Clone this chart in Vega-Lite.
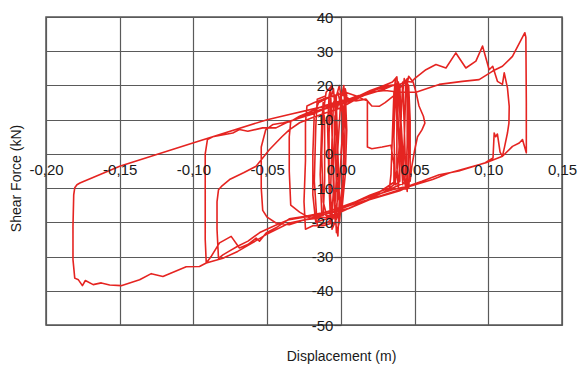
{
  "$schema": "https://vega.github.io/schema/vega-lite/v6.json",
  "width": 516,
  "height": 308,
  "autosize": {"type": "none"},
  "padding": {"left": 46, "top": 17, "right": 17, "bottom": 40},
  "config": {
    "view": {"stroke": "#555555", "strokeWidth": 1.5},
    "font": "Liberation Sans"
  },
  "data": {
    "values": [
      {"i":1,"d":0,"f":0},{"i":2,"d":0.002,"f":9},{"i":3,"d":0.004,"f":17},{"i":4,"d":0.003,"f":19},{"i":5,"d":0.001,"f":6},
      {"i":6,"d":-0.001,"f":-10},{"i":7,"d":-0.004,"f":-18},{"i":8,"d":-0.007,"f":-20},{"i":9,"d":-0.008,"f":-9},{"i":10,"d":-0.008,"f":6},
      {"i":11,"d":-0.007,"f":16},{"i":12,"d":-0.005,"f":19},{"i":13,"d":-0.003,"f":8},{"i":14,"d":-0.002,"f":-8},{"i":15,"d":-0.003,"f":-19},
      {"i":16,"d":-0.006,"f":-22},{"i":17,"d":-0.007,"f":-12},{"i":18,"d":-0.006,"f":4},{"i":19,"d":-0.005,"f":15},{"i":20,"d":-0.002,"f":18},
      {"i":21,"d":0.001,"f":12},{"i":22,"d":0.002,"f":-2},{"i":23,"d":0.001,"f":-14},{"i":24,"d":-0.002,"f":-18},{"i":25,"d":-0.009,"f":-19},
      {"i":26,"d":-0.012,"f":-14},{"i":27,"d":-0.013,"f":0},{"i":28,"d":-0.012,"f":12},{"i":29,"d":-0.010,"f":18},{"i":30,"d":-0.006,"f":20},
      {"i":31,"d":-0.003,"f":14},{"i":32,"d":-0.002,"f":0},{"i":33,"d":-0.001,"f":-13},{"i":34,"d":-0.002,"f":-24},{"i":35,"d":-0.004,"f":-19},
      {"i":36,"d":-0.005,"f":-4},{"i":37,"d":-0.004,"f":11},{"i":38,"d":0.000,"f":17},{"i":39,"d":0.003,"f":18},{"i":40,"d":0.004,"f":7},
      {"i":41,"d":0.003,"f":-6},{"i":42,"d":0.001,"f":-15},{"i":43,"d":-0.004,"f":-20},{"i":44,"d":-0.012,"f":-21},{"i":45,"d":-0.019,"f":-21},
      {"i":46,"d":-0.024,"f":-22},{"i":47,"d":-0.025,"f":-14},{"i":48,"d":-0.024,"f":-2},{"i":49,"d":-0.024,"f":9},{"i":50,"d":-0.023,"f":14},
      {"i":51,"d":-0.018,"f":15},{"i":52,"d":-0.012,"f":16},{"i":53,"d":-0.005,"f":17},{"i":54,"d":0.003,"f":18},{"i":55,"d":0.010,"f":17},
      {"i":56,"d":0.015,"f":16},{"i":57,"d":0.018,"f":15.5},{"i":58,"d":0.018,"f":8},{"i":59,"d":0.018,"f":2},{"i":60,"d":0.021,"f":1.5},
      {"i":61,"d":0.028,"f":2},{"i":62,"d":0.034,"f":2.5},{"i":63,"d":0.036,"f":-3},{"i":64,"d":0.036,"f":-9},{"i":65,"d":0.030,"f":-11},
      {"i":66,"d":0.020,"f":-13},{"i":67,"d":0.010,"f":-15},{"i":68,"d":0.000,"f":-17},{"i":69,"d":-0.010,"f":-19},{"i":70,"d":-0.017,"f":-20},
      {"i":71,"d":-0.019,"f":-12},{"i":72,"d":-0.019,"f":0},{"i":73,"d":-0.018,"f":12},{"i":74,"d":-0.015,"f":15},{"i":75,"d":-0.008,"f":16.5},
      {"i":76,"d":0.000,"f":17.5},{"i":77,"d":0.006,"f":16},{"i":78,"d":0.010,"f":15.5},{"i":79,"d":0.017,"f":16},{"i":80,"d":0.021,"f":14},
      {"i":81,"d":0.026,"f":13.9},{"i":82,"d":0.030,"f":15},{"i":83,"d":0.033,"f":16},{"i":84,"d":0.036,"f":17},{"i":85,"d":0.037,"f":22},
      {"i":86,"d":0.038,"f":10},{"i":87,"d":0.038,"f":-4},{"i":88,"d":0.039,"f":-10},{"i":89,"d":0.040,"f":-2},{"i":90,"d":0.041,"f":12},
      {"i":91,"d":0.042,"f":21},{"i":92,"d":0.043,"f":8},{"i":93,"d":0.044,"f":-6},{"i":94,"d":0.045,"f":-11},{"i":95,"d":0.046,"f":0},
      {"i":96,"d":0.046,"f":14},{"i":97,"d":0.045,"f":22},{"i":98,"d":0.042,"f":20},{"i":99,"d":0.039,"f":19},{"i":100,"d":0.036,"f":18},
      {"i":101,"d":0.035,"f":6},{"i":102,"d":0.034,"f":-6},{"i":103,"d":0.033,"f":-10},{"i":104,"d":0.020,"f":-12},{"i":105,"d":0.010,"f":-14},
      {"i":106,"d":0.000,"f":-16},{"i":107,"d":-0.006,"f":-17},{"i":108,"d":-0.008,"f":-8},{"i":109,"d":-0.009,"f":8},{"i":110,"d":-0.008,"f":17},
      {"i":111,"d":-0.007,"f":19},{"i":112,"d":-0.006,"f":6},{"i":113,"d":-0.005,"f":-10},{"i":114,"d":-0.006,"f":-18},{"i":115,"d":-0.010,"f":-18},
      {"i":116,"d":-0.013,"f":-17},{"i":117,"d":-0.014,"f":-6},{"i":118,"d":-0.013,"f":8},{"i":119,"d":-0.012,"f":15},{"i":120,"d":-0.011,"f":9},
      {"i":121,"d":-0.011,"f":-8},{"i":122,"d":-0.012,"f":-18},{"i":123,"d":-0.020,"f":-19},{"i":124,"d":-0.028,"f":-17},{"i":125,"d":-0.034,"f":-15},
      {"i":126,"d":-0.035,"f":-5},{"i":127,"d":-0.035,"f":5},{"i":128,"d":-0.034,"f":9.5},{"i":129,"d":-0.028,"f":11},{"i":130,"d":-0.020,"f":12.5},
      {"i":131,"d":-0.012,"f":14},{"i":132,"d":0.000,"f":15.5},{"i":133,"d":0.010,"f":16.5},{"i":134,"d":0.020,"f":18.5},{"i":135,"d":0.028,"f":19.8},
      {"i":136,"d":0.035,"f":21},{"i":137,"d":0.038,"f":22.5},{"i":138,"d":0.040,"f":12},{"i":139,"d":0.041,"f":-2},{"i":140,"d":0.042,"f":-9},
      {"i":141,"d":0.043,"f":4},{"i":142,"d":0.044,"f":18},{"i":143,"d":0.046,"f":22.7},{"i":144,"d":0.049,"f":21},{"i":145,"d":0.051,"f":18},
      {"i":146,"d":0.053,"f":14},{"i":147,"d":0.056,"f":11},{"i":148,"d":0.057,"f":9},{"i":149,"d":0.055,"f":7},{"i":150,"d":0.052,"f":5},
      {"i":151,"d":0.050,"f":1},{"i":152,"d":0.048,"f":-4},{"i":153,"d":0.047,"f":-8},{"i":154,"d":0.040,"f":-9},{"i":155,"d":0.030,"f":-11},
      {"i":156,"d":0.020,"f":-13},{"i":157,"d":0.010,"f":-15},{"i":158,"d":0.000,"f":-17},{"i":159,"d":-0.010,"f":-18.5},{"i":160,"d":-0.024,"f":-19.2},
      {"i":161,"d":-0.035,"f":-20.7},{"i":162,"d":-0.044,"f":-20.2},{"i":163,"d":-0.050,"f":-18.5},{"i":164,"d":-0.053,"f":-16.5},{"i":165,"d":-0.054,"f":-10},
      {"i":166,"d":-0.054,"f":-2},{"i":167,"d":-0.054,"f":2},{"i":168,"d":-0.051,"f":7},{"i":169,"d":-0.046,"f":8.6},{"i":170,"d":-0.039,"f":9.1},
      {"i":171,"d":-0.035,"f":9.5},{"i":172,"d":-0.028,"f":10.5},{"i":173,"d":-0.020,"f":11.5},{"i":174,"d":-0.012,"f":13},{"i":175,"d":0.000,"f":14.5},
      {"i":176,"d":0.010,"f":16},{"i":177,"d":0.024,"f":18.8},{"i":178,"d":0.032,"f":20},{"i":179,"d":0.040,"f":20.3},{"i":180,"d":0.041,"f":6},
      {"i":181,"d":0.042,"f":-8},{"i":182,"d":0.043,"f":3},{"i":183,"d":0.044,"f":21},{"i":184,"d":0.046,"f":20},{"i":185,"d":0.047,"f":10},
      {"i":186,"d":0.047,"f":-4},{"i":187,"d":0.046,"f":-10},{"i":188,"d":0.040,"f":-10.5},{"i":189,"d":0.025,"f":-12.5},{"i":190,"d":0.010,"f":-14.5},
      {"i":191,"d":0.000,"f":-16},{"i":192,"d":-0.010,"f":-17.5},{"i":193,"d":-0.025,"f":-18.5},{"i":194,"d":-0.035,"f":-19.2},{"i":195,"d":-0.045,"f":-21},
      {"i":196,"d":-0.055,"f":-23},{"i":197,"d":-0.063,"f":-25.5},{"i":198,"d":-0.070,"f":-27},{"i":199,"d":-0.076,"f":-28.5},{"i":200,"d":-0.080,"f":-29.5},
      {"i":201,"d":-0.083,"f":-30.5},{"i":202,"d":-0.084,"f":-22},{"i":203,"d":-0.084,"f":-14},{"i":204,"d":-0.083,"f":-10.5},{"i":205,"d":-0.081,"f":-9.5},
      {"i":206,"d":-0.0755,"f":-7.5},{"i":207,"d":-0.066,"f":-5.5},{"i":208,"d":-0.0575,"f":-3.6},{"i":209,"d":-0.0484,"f":1.3},{"i":210,"d":-0.040,"f":5},
      {"i":211,"d":-0.035,"f":7},{"i":212,"d":-0.028,"f":9.1},{"i":213,"d":-0.020,"f":10.5},{"i":214,"d":-0.010,"f":12},{"i":215,"d":0.000,"f":13.5},
      {"i":216,"d":0.010,"f":15.9},{"i":217,"d":0.024,"f":18.8},{"i":218,"d":0.035,"f":20},{"i":219,"d":0.040,"f":20.3},{"i":220,"d":0.0442,"f":21.2},
      {"i":221,"d":0.048,"f":21},{"i":222,"d":0.0498,"f":21.9},{"i":223,"d":0.0577,"f":24.6},{"i":224,"d":0.0645,"f":26.1},{"i":225,"d":0.0713,"f":25.1},
      {"i":226,"d":0.078,"f":29.5},{"i":227,"d":0.0848,"f":25.1},{"i":228,"d":0.0916,"f":27.1},{"i":229,"d":0.0961,"f":31.5},{"i":230,"d":0.1006,"f":24.6},
      {"i":231,"d":0.103,"f":25.6},{"i":232,"d":0.1062,"f":21.2},{"i":233,"d":0.1096,"f":20.3},{"i":234,"d":0.1108,"f":23.7},{"i":235,"d":0.113,"f":19.3},
      {"i":236,"d":0.1142,"f":13.9},{"i":237,"d":0.114,"f":9},{"i":238,"d":0.113,"f":6.1},{"i":239,"d":0.111,"f":2},{"i":240,"d":0.1096,"f":-0.7},
      {"i":241,"d":0.108,"f":0.5},{"i":242,"d":0.1062,"f":5.8},{"i":243,"d":0.105,"f":5.0},{"i":244,"d":0.104,"f":6.1},{"i":245,"d":0.1032,"f":-1.2},
      {"i":246,"d":0.098,"f":-2.6},{"i":247,"d":0.080,"f":-5},{"i":248,"d":0.0667,"f":-6.1},{"i":249,"d":0.055,"f":-8},{"i":250,"d":0.045,"f":-9.5},
      {"i":251,"d":0.035,"f":-10.5},{"i":252,"d":0.020,"f":-12.5},{"i":253,"d":0.005,"f":-14.8},{"i":254,"d":-0.010,"f":-17},{"i":255,"d":-0.024,"f":-18.2},
      {"i":256,"d":-0.035,"f":-19},{"i":257,"d":-0.044,"f":-21.6},{"i":258,"d":-0.0507,"f":-23.1},{"i":259,"d":-0.0552,"f":-25.5},{"i":260,"d":-0.0575,"f":-24.6},
      {"i":261,"d":-0.0631,"f":-26.5},{"i":262,"d":-0.0688,"f":-27.5},{"i":263,"d":-0.0744,"f":-24.1},{"i":264,"d":-0.0823,"f":-26},{"i":265,"d":-0.088,"f":-30},
      {"i":266,"d":-0.0913,"f":-31.9},{"i":267,"d":-0.092,"f":-25},{"i":268,"d":-0.092,"f":-10},{"i":269,"d":-0.092,"f":0},{"i":270,"d":-0.0905,"f":4.2},
      {"i":271,"d":-0.0869,"f":5.0},{"i":272,"d":-0.0733,"f":6.1},{"i":273,"d":-0.0688,"f":7.1},{"i":274,"d":-0.0631,"f":6.6},{"i":275,"d":-0.053,"f":7.6},
      {"i":276,"d":-0.044,"f":7.6},{"i":277,"d":-0.0371,"f":9.1},{"i":278,"d":-0.030,"f":10.2},{"i":279,"d":-0.020,"f":12},{"i":280,"d":-0.010,"f":13.5},
      {"i":281,"d":0.000,"f":15},{"i":282,"d":0.010,"f":16.8},{"i":283,"d":0.020,"f":18},{"i":284,"d":0.030,"f":18.5},{"i":285,"d":0.040,"f":18},
      {"i":286,"d":0.051,"f":18},{"i":287,"d":0.060,"f":19.3},{"i":288,"d":0.0667,"f":20.3},{"i":289,"d":0.0825,"f":21.2},{"i":290,"d":0.0938,"f":21.7},
      {"i":291,"d":0.103,"f":24.2},{"i":292,"d":0.1096,"f":25.6},{"i":293,"d":0.1164,"f":28.5},{"i":294,"d":0.1248,"f":35.4},{"i":295,"d":0.1255,"f":34},
      {"i":296,"d":0.1258,"f":15},{"i":297,"d":0.1258,"f":0.3},{"i":298,"d":0.1232,"f":4.2},{"i":299,"d":0.121,"f":3.2},{"i":300,"d":0.1164,"f":2.2},
      {"i":301,"d":0.1096,"f":-0.7},{"i":302,"d":0.0984,"f":-2.6},{"i":303,"d":0.0735,"f":-5.6},{"i":304,"d":0.0622,"f":-7.5},{"i":305,"d":0.0464,"f":-9.5},
      {"i":306,"d":0.040,"f":-10.8},{"i":307,"d":0.0193,"f":-13.4},{"i":308,"d":0.005,"f":-16},{"i":309,"d":-0.010,"f":-17.5},{"i":310,"d":-0.0236,"f":-19.2},
      {"i":311,"d":-0.035,"f":-20.2},{"i":312,"d":-0.0507,"f":-23.6},{"i":313,"d":-0.060,"f":-26},{"i":314,"d":-0.070,"f":-28.5},{"i":315,"d":-0.080,"f":-30.5},
      {"i":316,"d":-0.0913,"f":-31.9},{"i":317,"d":-0.0959,"f":-32.9},{"i":318,"d":-0.1049,"f":-33.0},{"i":319,"d":-0.1207,"f":-35.8},{"i":320,"d":-0.1286,"f":-35.0},
      {"i":321,"d":-0.1365,"f":-36.8},{"i":322,"d":-0.149,"f":-38.5},{"i":323,"d":-0.1568,"f":-38.3},{"i":324,"d":-0.1625,"f":-37.7},{"i":325,"d":-0.168,"f":-38.2},
      {"i":326,"d":-0.1733,"f":-37.0},{"i":327,"d":-0.1753,"f":-38.5},{"i":328,"d":-0.178,"f":-36.8},{"i":329,"d":-0.1805,"f":-36.3},{"i":330,"d":-0.1817,"f":-30.9},
      {"i":331,"d":-0.1817,"f":-21.2},{"i":332,"d":-0.1812,"f":-12},{"i":333,"d":-0.1805,"f":-9.9},{"i":334,"d":-0.179,"f":-9},{"i":335,"d":-0.177,"f":-8.5},
      {"i":336,"d":-0.15,"f":-3.6},{"i":337,"d":-0.1004,"f":3.2},{"i":338,"d":-0.05,"f":10},{"i":339,"d":-0.035,"f":11.5},{"i":340,"d":-0.020,"f":13},
      {"i":341,"d":0.000,"f":15},{"i":342,"d":0.015,"f":17},{"i":343,"d":0.030,"f":19},{"i":344,"d":0.038,"f":20.5},{"i":345,"d":0.039,"f":8},
      {"i":346,"d":0.040,"f":-3},{"i":347,"d":0.040,"f":-8},{"i":348,"d":0.037,"f":-9},{"i":349,"d":0.036,"f":5},{"i":350,"d":0.037,"f":19},
      {"i":351,"d":0.039,"f":21},{"i":352,"d":0.041,"f":8},{"i":353,"d":0.043,"f":-7},{"i":354,"d":0.044,"f":-10},{"i":355,"d":0.045,"f":3},
      {"i":356,"d":0.045,"f":19},{"i":357,"d":0.043,"f":22},{"i":358,"d":0.041,"f":14},{"i":359,"d":0.039,"f":-2},{"i":360,"d":0.037,"f":-8},
      {"i":361,"d":0.025,"f":-11.5},{"i":362,"d":0.010,"f":-14},{"i":363,"d":0.000,"f":-15.5},{"i":364,"d":-0.003,"f":-10},{"i":365,"d":-0.004,"f":5},
      {"i":366,"d":-0.003,"f":17},{"i":367,"d":-0.001,"f":20},{"i":368,"d":0.001,"f":14},{"i":369,"d":0.002,"f":0},{"i":370,"d":0.001,"f":-12},
      {"i":371,"d":-0.001,"f":-20},{"i":372,"d":-0.003,"f":-23},{"i":373,"d":-0.004,"f":-15},{"i":374,"d":-0.002,"f":2},{"i":375,"d":0.000,"f":16},
      {"i":376,"d":0.002,"f":20},{"i":377,"d":0.003,"f":10},{"i":378,"d":0.002,"f":-5},{"i":379,"d":-0.001,"f":-17},{"i":380,"d":-0.009,"f":-20},
      {"i":381,"d":-0.016,"f":-21},{"i":382,"d":-0.018,"f":-8},{"i":383,"d":-0.017,"f":8},{"i":384,"d":-0.016,"f":16},{"i":385,"d":-0.010,"f":17}
    ]
  },
  "layer": [
    {
      "mark": {"type": "line", "color": "#e52421", "strokeWidth": 1.6, "strokeJoin": "round"},
      "encoding": {
        "x": {
          "field": "d", "type": "quantitative",
          "scale": {"domain": [-0.2, 0.15], "nice": false, "zero": false},
          "axis": {
            "orient": "bottom", "grid": true, "gridColor": "#5a5a5a", "gridWidth": 1.2, "gridOpacity": 1,
            "labels": false, "ticks": false, "domain": false, "title": null, "zindex": 0,
            "values": [-0.2, -0.15, -0.1, -0.05, 0, 0.05, 0.1, 0.15]
          }
        },
        "y": {
          "field": "f", "type": "quantitative",
          "scale": {"domain": [-50, 40], "nice": false, "zero": false},
          "axis": {
            "orient": "left", "grid": true, "gridColor": "#5a5a5a", "gridWidth": 1.2, "gridOpacity": 1,
            "labels": false, "ticks": false, "domain": false, "title": null, "zindex": 0,
            "values": [-50, -40, -30, -20, -10, 0, 10, 20, 30, 40]
          }
        },
        "order": {"field": "i", "type": "quantitative"}
      }
    },
    {
      "transform": [{"filter": "datum.i == 1"}],
      "mark": {"type": "point", "opacity": 0},
      "encoding": {
        "x": {
          "field": "d", "type": "quantitative",
          "axis": {
            "orient": "bottom", "offset": -171.1, "grid": false, "domain": false, "ticks": false,
            "values": [-0.2, -0.15, -0.1, -0.05, 0, 0.05, 0.1, 0.15],
            "labelExpr": "(datum.value < 0 ? '-' : '') + replace(format(abs(datum.value), '.2f'), '.', ',')",
            "labelFontSize": 15, "labelColor": "#1a1a1a", "labelPadding": 9,
            "labelFlush": false, "labelOverlap": false,
            "title": "Displacement (m)", "titleX": 295, "titleY": 207,
            "titleAlign": "center", "titleBaseline": "alphabetic",
            "titleFontSize": 14, "titleFontWeight": "normal", "titleColor": "#1a1a1a",
            "zindex": 2
          }
        },
        "y": {
          "field": "f", "type": "quantitative",
          "axis": {
            "orient": "left", "offset": -294.9, "grid": false, "domain": false,
            "ticks": true, "tickSize": 7, "tickColor": "#444444", "tickWidth": 1.2,
            "values": [-50, -40, -30, -20, -10, 0, 10, 20, 30, 40],
            "labelExpr": "(datum.value < 0 ? '-' : '') + format(abs(datum.value), 'd')",
            "labelFontSize": 15, "labelColor": "#1a1a1a", "labelPadding": 1,
            "labelFlush": false, "labelOverlap": false,
            "title": "Shear Force (kN)", "titleX": -324, "titleY": 161, "titleAngle": -90,
            "titleAlign": "center", "titleBaseline": "middle",
            "titleFontSize": 14, "titleFontWeight": "normal", "titleColor": "#1a1a1a",
            "zindex": 2
          }
        }
      }
    }
  ],
  "resolve": {"axis": {"x": "independent", "y": "independent"}}
}
